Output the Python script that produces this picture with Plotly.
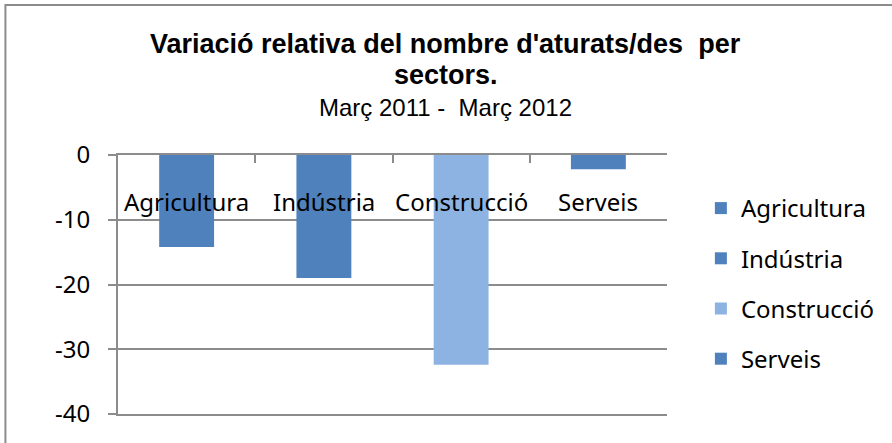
import plotly.graph_objects as go

categories = ["Agricultura", "Indústria", "Construcció", "Serveis"]
values = [-14.2, -19.0, -32.4, -2.2]
colors = ["#4F81BD", "#4F81BD", "#8DB3E2", "#4F81BD"]
y_ticks = [0, -10, -20, -30, -40]
title_lines = ["<b>Variació relativa del nombre d'aturats/des  per</b>", "<b>sectors.</b>",
               "Març 2011 -  Març 2012"]

W, H = 892, 443
L, R, T, B = 118, 669, 155, 414
pw, ph = R - L, B - T

fig = go.Figure()
for c, v, col in zip(categories, values, colors):
    fig.add_trace(go.Bar(x=[c], y=[v], name=c, marker=dict(color=col, line=dict(width=0)),
                         width=0.4, legendgroup=c))

for c in categories:
    fig.add_annotation(x=c, y=-7.2, text=c, showarrow=False, xref="x", yref="y",
                       font=dict(family="Noto Sans", size=24, color="black"))

# title lines
for txt, yc, sz in zip(title_lines, [44, 75, 108], [27, 27, 24]):
    fig.add_annotation(x=(447 - L) / pw, y=(B - yc) / ph, xref="paper", yref="paper",
                       text=txt, showarrow=False, xanchor="center", yanchor="middle",
                       font=dict(family="Liberation Sans", size=sz, color="black"))

fig.add_shape(type="rect", xref="paper", yref="paper",
              x0=(5 - L) / pw, x1=(W + 5 - L) / pw, y0=(B - (H + 5)) / ph, y1=(B - 5) / ph,
              line=dict(color="#8c8c8c", width=2), fillcolor="rgba(0,0,0,0)", layer="below")

fig.update_layout(
    width=W, height=H,
    margin=dict(l=L, r=W - R, t=T, b=H - B),
    paper_bgcolor="white", plot_bgcolor="white",
    barmode="overlay",
    font=dict(family="Noto Sans", size=24, color="black"),
    legend=dict(x=(703 - L) / pw, xanchor="left", y=(B - 186) / ph, yanchor="top",
                traceorder="grouped", tracegroupgap=16,
                font=dict(family="Noto Sans", size=24, color="black"),
                bgcolor="rgba(0,0,0,0)", itemwidth=30),
    showlegend=True,
)
fig.update_xaxes(side="top", showticklabels=False, showline=True, mirror=True,
                 linecolor="#8c8c8c", linewidth=2,
                 ticks="inside", ticklen=8, tickcolor="#8c8c8c", tickwidth=2, tickson="boundaries",
                 showgrid=False, zeroline=False, categoryorder="array", categoryarray=categories,
                 range=[-0.5, 3.5])
fig.update_yaxes(range=[-40, 0], tickvals=y_ticks, ticktext=[str(t) for t in y_ticks],
                 showline=True, linecolor="#8c8c8c", linewidth=2, ticks="outside", ticklen=8,
                 tickcolor="#8c8c8c", tickwidth=2, showgrid=True, gridcolor="#8c8c8c", gridwidth=2,
                 zeroline=False, ticklabelstandoff=13, tickfont=dict(family="Noto Sans", size=24))

fig.write_html("out.html", config={"displayModeBar": False},
               post_script="document.body.style.margin='0px';")
